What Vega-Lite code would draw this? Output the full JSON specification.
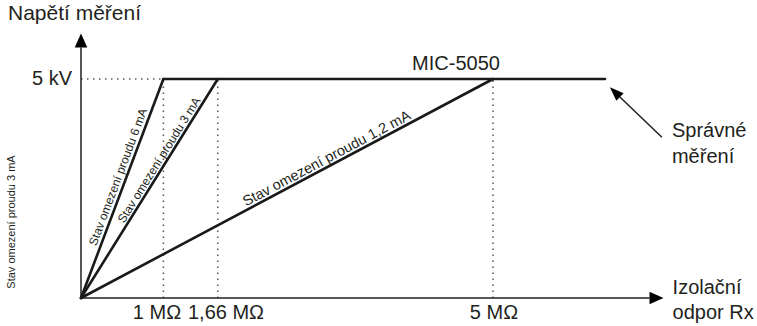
{
  "$schema": "https://vega.github.io/schema/vega-lite/v6.json",
  "width": 757,
  "height": 326,
  "autosize": {"type": "fit", "contains": "padding"},
  "padding": 0,
  "background": "white",
  "config": {
    "view": {"stroke": null},
    "text": {"font": "Liberation Sans", "color": "#231f20"}
  },
  "encoding": {
    "x": {"field": "x", "type": "quantitative", "axis": null, "scale": {"domain": [-0.983, 8.204], "nice": false, "zero": false}},
    "y": {"field": "y", "type": "quantitative", "axis": null, "scale": {"domain": [-0.639, 6.804], "nice": false, "zero": false}}
  },
  "layer": [
    {
      "data": {"values": [
        {"x": 0, "y": 5, "x2": 1, "y2": 5},
        {"x": 1, "y": 0, "x2": 1, "y2": 5},
        {"x": 1.66, "y": 0, "x2": 1.66, "y2": 5},
        {"x": 5, "y": 0, "x2": 5, "y2": 5}
      ]},
      "mark": {"type": "rule", "strokeDash": [1.5, 4.5], "strokeWidth": 1.5, "color": "#555555"},
      "encoding": {"x2": {"field": "x2"}, "y2": {"field": "y2"}}
    },
    {
      "data": {"values": [
        {"x": 0, "y": 0, "x2": 0, "y2": 5.72},
        {"x": 0, "y": 0, "x2": 6.9, "y2": 0}
      ]},
      "mark": {"type": "rule", "strokeWidth": 1.5, "color": "#231f20"},
      "encoding": {"x2": {"field": "x2"}, "y2": {"field": "y2"}}
    },
    {
      "data": {"values": [
        {"x": 0, "y": 0, "x2": 1, "y2": 5},
        {"x": 0, "y": 0, "x2": 1.66, "y2": 5},
        {"x": 0, "y": 0, "x2": 5, "y2": 5},
        {"x": 1, "y": 5, "x2": 6.36, "y2": 5}
      ]},
      "mark": {"type": "rule", "strokeWidth": 2.6, "strokeCap": "round", "color": "#1a1a1a"},
      "encoding": {"x2": {"field": "x2"}, "y2": {"field": "y2"}}
    },
    {
      "data": {"values": [
        {"x": 7.05, "y": 3.67, "x2": 6.54, "y2": 4.59}
      ]},
      "mark": {"type": "rule", "strokeWidth": 1.5, "color": "#231f20"},
      "encoding": {"x2": {"field": "x2"}, "y2": {"field": "y2"}}
    },
    {
      "data": {"values": [{"x": 0, "y": 5.88}]},
      "mark": {"type": "point", "shape": "M0,-1L0.9,1L-0.9,1Z", "size": 196, "filled": true, "opacity": 1, "color": "#000000"}
    },
    {
      "data": {"values": [{"x": 6.984, "y": 0}]},
      "mark": {"type": "point", "shape": "M1,0L-1,-0.9L-1,0.9Z", "size": 196, "filled": true, "opacity": 1, "color": "#000000"}
    },
    {
      "data": {"values": [{"x": 6.48, "y": 4.70}]},
      "mark": {"type": "point", "shape": "M1,0L-1,-0.75L-1,0.75Z", "size": 196, "angle": 224, "filled": true, "opacity": 1, "color": "#000000"}
    },
    {
      "data": {"values": [{"x": -0.886, "y": 6.48, "label": "Napětí měření"}]},
      "mark": {"type": "text", "align": "left", "baseline": "middle", "fontSize": 21},
      "encoding": {"text": {"field": "label"}}
    },
    {
      "data": {"values": [
        {"x": 7.172, "y": 3.813, "label": "Správné"},
        {"x": 7.172, "y": 3.219, "label": "měření"},
        {"x": 7.18, "y": 0.228, "label": "Izolační"},
        {"x": 7.18, "y": -0.342, "label": "odpor Rx"}
      ]},
      "mark": {"type": "text", "align": "left", "baseline": "middle", "fontSize": 20},
      "encoding": {"text": {"field": "label"}}
    },
    {
      "data": {"values": [
        {"x": 4.551, "y": 5.342, "label": "MIC-5050"},
        {"x": 0.922, "y": -0.342, "label": "1 MΩ"},
        {"x": 1.76, "y": -0.342, "label": "1,66 MΩ"},
        {"x": 5.012, "y": -0.342, "label": "5 MΩ"}
      ]},
      "mark": {"type": "text", "align": "center", "baseline": "middle", "fontSize": 20},
      "encoding": {"text": {"field": "label"}}
    },
    {
      "data": {"values": [{"x": -0.109, "y": 5.0, "label": "5 kV"}]},
      "mark": {"type": "text", "align": "right", "baseline": "middle", "fontSize": 20},
      "encoding": {"text": {"field": "label"}}
    },
    {
      "data": {"values": [{"x": -0.837, "y": 1.735, "label": "Stav omezení proudu 3 mA"}]},
      "mark": {"type": "text", "align": "center", "baseline": "middle", "fontSize": 11, "angle": 270},
      "encoding": {"text": {"field": "label"}}
    },
    {
      "data": {"values": [{"x": 0.449, "y": 2.763, "label": "Stav omezení proudu 6 mA"}]},
      "mark": {"type": "text", "align": "center", "baseline": "middle", "fontSize": 12, "angle": 290.5},
      "encoding": {"text": {"field": "label"}}
    },
    {
      "data": {"values": [{"x": 0.947, "y": 3.151, "label": "Stav omezení proudu 3 mA"}]},
      "mark": {"type": "text", "align": "center", "baseline": "middle", "fontSize": 12, "angle": 302}
      ,
      "encoding": {"text": {"field": "label"}}
    },
    {
      "data": {"values": [{"x": 2.985, "y": 3.174, "label": "Stav omezení proudu 1,2 mA"}]},
      "mark": {"type": "text", "align": "center", "baseline": "middle", "fontSize": 14.5, "angle": 332},
      "encoding": {"text": {"field": "label"}}
    }
  ]
}
